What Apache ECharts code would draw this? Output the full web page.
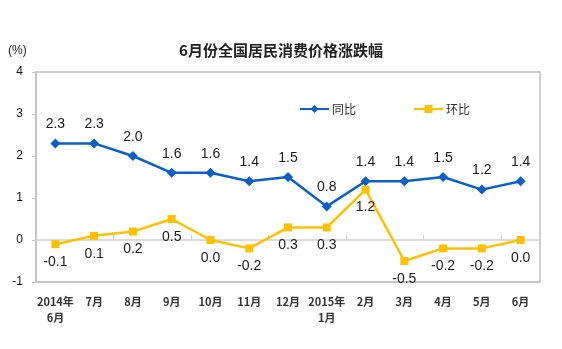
<!DOCTYPE html>
<html>
<head>
<meta charset="utf-8">
<script src="https://cdn.jsdelivr.net/npm/echarts@6/dist/echarts.min.js"></script>
<style>html,body{margin:0;padding:0;background:#fff}#c{width:562px;height:349px}</style>
</head>
<body>
<div id="c"></div>
<script>
var categories = ['2014年\n6月','7月','8月','9月','10月','11月','12月','2015年\n1月','2月','3月','4月','5月','6月'];
var yoy = [2.3,2.3,2.0,1.6,1.6,1.4,1.5,0.8,1.4,1.4,1.5,1.2,1.4];
var mom = [-0.1,0.1,0.2,0.5,0.0,-0.2,0.3,0.3,1.2,-0.5,-0.2,-0.2,0.0];
var yTicks = [-1,0,1,2,3,4];

var chart = echarts.init(document.getElementById('c'));
var lblFont = {fontFamily:'Liberation Sans, Arial, sans-serif', fontSize:14, color:'#1a1a1a'};
chart.setOption({
  animation:false,
  title:{text:'6月份全国居民消费价格涨跌幅', left:'center', top:38,
    textStyle:{fontFamily:'Noto Sans CJK SC', fontSize:15, fontWeight:'bold', color:'#222'}},
  graphic:[{type:'text', left:8, top:45, style:{text:'(%)', fontSize:12, fontFamily:'Liberation Sans, Arial', fill:'#222'}}],
  legend:{left:294, top:98, itemWidth:29, itemHeight:10, itemGap:57,
    textStyle:{fontFamily:'Noto Sans CJK SC', fontSize:12, color:'#333', padding:[0,0,0,-2]},
    data:['同比','环比']},
  grid:{left:36, right:22, top:72, bottom:67, show:true, borderColor:'#bdbdbd', borderWidth:1.5, backgroundColor:'transparent'},
  xAxis:[{type:'category', data:categories, boundaryGap:true,
      axisLine:{onZero:true, lineStyle:{color:'#cfcfcf', width:1.5}},
      axisTick:{show:true, inside:true, length:5, lineStyle:{color:'#cfcfcf'}},
      axisLabel:{show:false}},
    {type:'category', data:categories, position:'bottom', boundaryGap:true,
      axisLine:{onZero:false, lineStyle:{color:'#c4c4c4', width:2}},
      axisTick:{show:false},
      axisLabel:{margin:12, fontFamily:'Noto Sans CJK SC', fontSize:11, fontWeight:'bold', color:'#333', lineHeight:16, interval:0}}],
  yAxis:{type:'value', min:yTicks[0], max:yTicks[yTicks.length-1], interval:1,
    axisLine:{show:true, lineStyle:{color:'#c4c4c4', width:2}},
    axisTick:{show:true, length:4, lineStyle:{color:'#c4c4c4'}},
    splitLine:{show:false},
    axisLabel:{margin:13, fontFamily:'Liberation Sans, Arial', fontSize:12, color:'#111'}},
  series:[
    {name:'同比', type:'line', data:yoy, xAxisIndex:0, symbol:'diamond', symbolSize:10,
      lineStyle:{color:'#0b5fc6', width:2.5}, itemStyle:{color:'#0b5fc6'},
      label:{show:true, position:'top', distance:7, formatter:function(p){return p.value.toFixed(1);}, textStyle:lblFont}},
    {name:'环比', type:'line', data:mom, xAxisIndex:0, symbol:'rect', symbolSize:8,
      lineStyle:{color:'#ffc000', width:2.5}, itemStyle:{color:'#ffc000'},
      label:{show:true, position:'bottom', distance:7, formatter:function(p){return p.value.toFixed(1);}, textStyle:lblFont}}
  ]
});
</script>
</body>
</html>
